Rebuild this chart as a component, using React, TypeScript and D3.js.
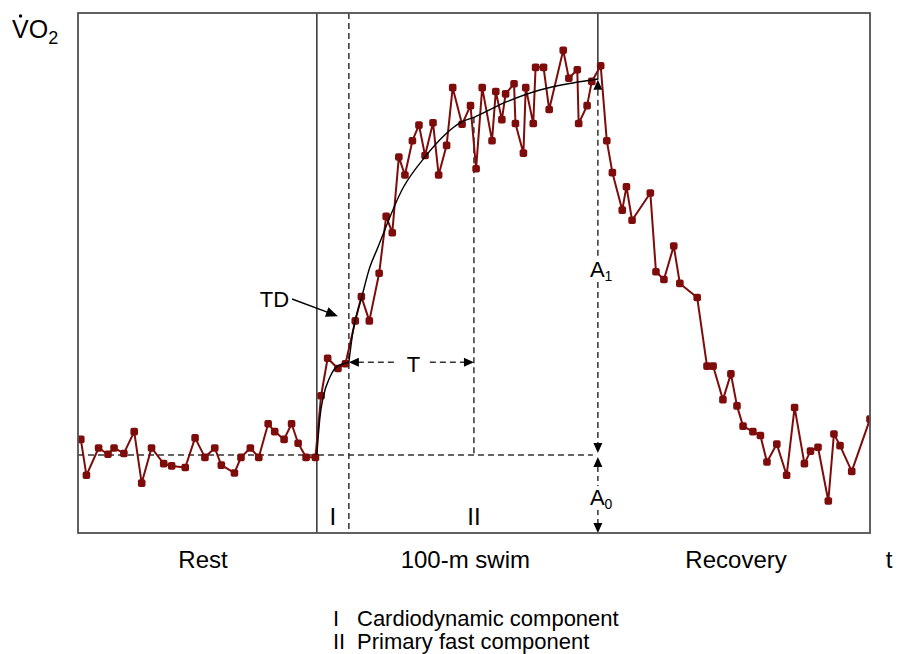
import React from "react";
import * as d3 from "d3";

// ---- data (time in s from swim start, VO2 in arbitrary units) ----
const restTime = [-50.4,-49.2,-46.6,-44.6,-43.3,-41.2,-39.0,-37.4,-35.3,-32.7,-31.0,-28.1,-26.0,-23.9,-21.8,-20.4,-17.6,-16.2,-14.2,-12.4,-10.4,-9.0,-7.0,-5.4,-4.0,-2.3,-0.3];
const restVO2 = [12.0,7.4,10.9,10.1,10.9,10.2,13.0,6.4,10.9,8.9,8.6,8.4,12.2,9.7,10.9,8.7,7.7,9.7,10.9,9.7,14.0,13.0,12.0,14.0,11.5,9.7,9.7];
const swimTime = [0.9,2.3,4.5,6.1,8.2,9.5,11.2,13.3,14.8,16.1,17.5,18.8,20.4,21.8,23.1,24.8,26.0,27.7,29.0,31.0,32.8,34.0,35.3,37.4,38.2,39.5,40.3,42.1,42.4,44.1,44.6,46.2,46.7,48.4,49.6,52.6,53.8,55.6,55.9,57.7,58.7,60.6];
const swimVO2 = [17.6,22.4,21.1,21.7,27.2,30.3,27.2,33.3,40.6,38.5,48.2,45.9,50.3,52.3,48.4,52.6,45.9,49.7,57.1,52.4,54.8,46.7,57.1,50.3,56.6,53.0,56.3,57.6,52.5,48.7,57.1,52.5,59.7,59.7,54.3,61.9,58.3,59.4,52.5,54.8,57.9,59.9];
const recTime = [61.9,63.1,65.2,66.1,67.3,71.2,72.4,74.1,76.2,77.5,81.2,83.3,84.6,86.7,88.4,89.7,91.0,93.1,94.7,96.1,98.2,100.3,102.0,104.1,105.4,107.0,109.2,110.4,111.7,114.2,118.1];
const recVO2 = [50.3,46.2,41.4,44.4,40.1,43.6,33.5,32.5,36.8,32.0,30.2,21.4,21.4,17.1,20.4,16.3,13.7,13.0,12.5,9.1,11.4,7.4,16.1,8.9,10.5,11.0,4.1,12.7,11.2,7.9,14.6];

// fitted model curves
const cardioFitTime = [0, 0.3, 0.65, 1.35, 2.8, 4.2, 6.8];
const cardioFitVO2 = [10, 12.4, 14.8, 17.4, 20.0, 21.3, 21.9];
const primaryFitTime = [6.83, 7.69, 9.61, 11.32, 12.81, 18.36, 23.06, 30.96, 33.53, 40.57, 47.62, 54.67, 60.0];
const primaryFitVO2 = [21.9, 25.8, 30.3, 34.1, 36.3, 44.2, 48.2, 52.7, 53.3, 55.3, 56.8, 57.7, 58.2];

// key values
const baseline = 10;        // A0
const peakFit = 58.1;       // A0 + A1
const swimEnd = 60;
const tdTime = 6.83;        // end of phase I
const tauTime = 33.53;      // TD + tau
const tdLevel = 21.9;

const phaseLabels = [
  { text: "Rest", t: -24.3 },
  { text: "100-m swim", t: 31.7 },
  { text: "Recovery", t: 89.5 },
  { text: "t", t: 122.2 },
];

const W = 898, H = 654;
const FONT = "'Liberation Sans', Arial, sans-serif";
const RED = "#7d0c0a";
const DASH = "6,4";
const DCOL = "#333";

function head(tx: number, ty: number, angle: number, len = 10, half = 4.5) {
  const bx = tx - len * Math.cos(angle), by = ty - len * Math.sin(angle);
  const px = -Math.sin(angle) * half, py = Math.cos(angle) * half;
  return `M${tx},${ty}L${bx + px},${by + py}L${bx - px},${by - py}Z`;
}

export default function App() {
  const x = d3.scaleLinear().domain([-51, 118.1]).range([78, 870]);
  const y = d3.scaleLinear().domain([0, 66.67]).range([533, 13]);
  const [x0, x1] = x.range();
  const [yb, yt] = y.range();

  const time = [...restTime, ...swimTime, ...recTime];
  const vo2 = [...restVO2, ...swimVO2, ...recVO2];
  const pts = time.map((t, i) => [t, vo2[i]] as [number, number]);

  const dataLine = d3.line<[number, number]>().x(d => x(d[0])).y(d => y(d[1]))(pts) || "";
  const fitLine = d3.line<[number, number]>().x(d => x(d[0])).y(d => y(d[1])).curve(d3.curveMonotoneX);
  const cardio = fitLine(cardioFitTime.map((t, i) => [t, cardioFitVO2[i]] as [number, number])) || "";
  const primary = fitLine(primaryFitTime.map((t, i) => [t, primaryFitVO2[i]] as [number, number])) || "";

  const xs = x(0), xe = x(swimEnd), xTD = x(tdTime), xTau = x(tauTime);
  const yBase = y(baseline), yPeak = y(peakFit), yTD = y(tdLevel);

  const tdTail = [x(-5.3), y(30.0)], tdTip = [x(4.5), y(27.8)];
  const tdAng = Math.atan2(tdTip[1] - tdTail[1], tdTip[0] - tdTail[0]);

  return (
    <svg width={W} height={H} style={{ position: "absolute", left: 0, top: 0, background: "#fff" }} fontFamily={FONT}>
      <defs>
        <clipPath id="plotClip">
          <rect x={x0} y={yt} width={x1 - x0} height={yb - yt} />
        </clipPath>
      </defs>

      {/* dashed reference lines */}
      <line x1={x0} x2={xe - 5} y1={yBase} y2={yBase} stroke={DCOL} strokeWidth={1.5} strokeDasharray={DASH} />
      <line x1={xTD} x2={xTD} y1={yt} y2={yb} stroke={DCOL} strokeWidth={1.5} strokeDasharray={DASH} />
      <line x1={xTau} x2={xTau} y1={y(53.3)} y2={yBase} stroke={DCOL} strokeWidth={1.5} strokeDasharray={DASH} />

      {/* T arrow */}
      <line x1={xTD + 9} x2={xTD + 49} y1={yTD} y2={yTD} stroke={DCOL} strokeWidth={1.5} strokeDasharray={DASH} />
      <line x1={xTD + 81} x2={xTau - 9} y1={yTD} y2={yTD} stroke={DCOL} strokeWidth={1.5} strokeDasharray={DASH} />
      <path d={head(xTD, yTD, Math.PI)} fill="#000" />
      <path d={head(xTau, yTD, 0)} fill="#000" />
      <text x={(xTD + xTau) / 2 + 2} y={yTD + 10} fontSize={22} textAnchor="middle">T</text>

      {/* A1 / A0 */}
      <line x1={xe} x2={xe} y1={yPeak + 10} y2={257} stroke={DCOL} strokeWidth={1.5} strokeDasharray={DASH} />
      <line x1={xe} x2={xe} y1={282} y2={yBase - 10} stroke={DCOL} strokeWidth={1.5} strokeDasharray={DASH} />
      <path d={head(xe, yPeak, -Math.PI / 2)} fill="#000" />
      <path d={head(xe, yBase - 2, Math.PI / 2)} fill="#000" />
      <path d={head(xe, yBase + 2, -Math.PI / 2)} fill="#000" />
      <line x1={xe} x2={xe} y1={yBase + 12} y2={486} stroke={DCOL} strokeWidth={1.5} strokeDasharray="5,4" />
      <line x1={xe} x2={xe} y1={510} y2={yb - 10} stroke={DCOL} strokeWidth={1.5} strokeDasharray="5,4" />
      <path d={head(xe, yb, Math.PI / 2)} fill="#000" />
      <text x={xe - 8} y={277} fontSize={22}>A<tspan fontSize={14} dy={4}>1</tspan></text>
      <text x={xe - 8} y={505} fontSize={22}>A<tspan fontSize={14} dy={4}>0</tspan></text>

      {/* solid phase boundaries */}
      <line x1={xs} x2={xs} y1={yt} y2={yb} stroke="#111" strokeWidth={1.3} />
      <line x1={xe} x2={xe} y1={yt} y2={yPeak} stroke="#111" strokeWidth={1.3} />

      {/* data */}
      <g clipPath="url(#plotClip)">
        <path d={dataLine} fill="none" stroke={RED} strokeWidth={2} strokeLinejoin="round" />
        {pts.map((d, i) => (
          <rect key={i} x={x(d[0]) - 3.8} y={y(d[1]) - 3.8} width={7.6} height={7.6} rx={2} fill={RED} />
        ))}
      </g>

      {/* fitted curves */}
      <path d={cardio} fill="none" stroke="#000" strokeWidth={1.4} />
      <path d={primary} fill="none" stroke="#000" strokeWidth={1.4} />

      {/* TD arrow */}
      <line x1={tdTail[0]} y1={tdTail[1]} x2={tdTip[0] - 10 * Math.cos(tdAng)} y2={tdTip[1] - 10 * Math.sin(tdAng)} stroke="#000" strokeWidth={1.4} />
      <path d={head(tdTip[0], tdTip[1], tdAng, 12, 5)} fill="#000" />
      <text x={x(-12.2)} y={y(29.0)} fontSize={22}>TD</text>

      {/* frame */}
      <rect x={x0} y={yt} width={x1 - x0} height={yb - yt} fill="none" stroke="#505050" strokeWidth={1.8} />

      {/* phase component labels */}
      <text x={(xs + xTD) / 2} y={525} fontSize={24} textAnchor="middle">I</text>
      <text x={xTau} y={525} fontSize={24} textAnchor="middle">II</text>

      {phaseLabels.map(p => (
        <text key={p.text} x={x(p.t)} y={568} fontSize={24} textAnchor="middle">{p.text}</text>
      ))}

      {/* y label */}
      <text x={12} y={38} fontSize={25}>VO<tspan fontSize={18} dy={6}>2</tspan></text>
      <circle cx={20.5} cy={16} r={1.7} fill="#000" />

      {/* legend */}
      <text x={333} y={626} fontSize={22}>I</text>
      <text x={357} y={626} fontSize={22}>Cardiodynamic component</text>
      <text x={333} y={649} fontSize={22}>II</text>
      <text x={357} y={649} fontSize={22}>Primary fast component</text>
    </svg>
  );
}
